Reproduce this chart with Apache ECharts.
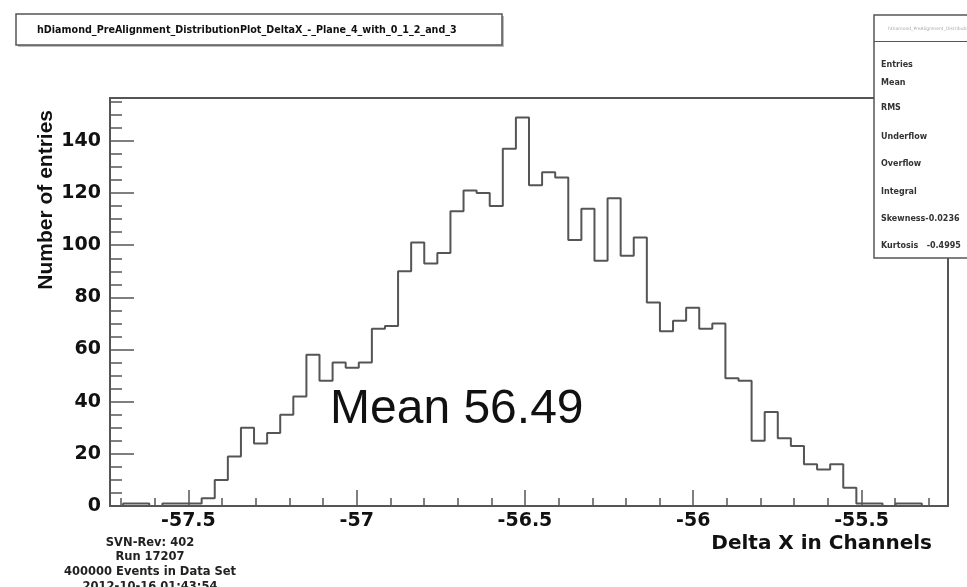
<!DOCTYPE html>
<html>
<head>
<meta charset="utf-8">
<script src="https://cdn.jsdelivr.net/npm/echarts@6/dist/echarts.min.js"></script>
<style>
html,body{margin:0;padding:0;background:#fff;}
#chart{width:967px;height:587px;}
</style>
</head>
<body>
<div id="chart"></div>
<script>
// ---- data ----
const histTitle = 'hDiamond_PreAlignment_DistributionPlot_DeltaX_-_Plane_4_with_0_1_2_and_3';
const xMin = -57.733;
const xMax = -55.243;
const nBins = 64;
const counts = [
  0, 1, 1, 0, 1, 1, 1, 3, 10, 19,
  30, 24, 28, 35, 42, 58, 48, 55, 53, 55,
  68, 69, 90, 101, 93, 97, 113, 121, 120, 115,
  137, 149, 123, 128, 126, 102, 114, 94, 118, 96,
  103, 78, 67, 71, 76, 68, 70, 49, 48, 25,
  36, 26, 23, 16, 14, 16, 7, 1, 1, 0,
  1, 1, 0, 0
];
const yMax = 156.45;
const xMajorTicks = [-57.5, -57, -56.5, -56, -55.5];
const xMinorTicks = [-57.7, -57.6, -57.5, -57.4, -57.3, -57.2, -57.1, -57.0, -56.9, -56.8, -56.7, -56.6, -56.5,
  -56.4, -56.3, -56.2, -56.1, -56.0, -55.9, -55.8, -55.7, -55.6, -55.5, -55.4, -55.3];
const yMajorTicks = [0, 20, 40, 60, 80, 100, 120, 140];
const yMinorTicks = [0, 5, 10, 15, 20, 25, 30, 35, 40, 45, 50, 55, 60, 65, 70, 75, 80, 85, 90, 95, 100,
  105, 110, 115, 120, 125, 130, 135, 140, 145, 150, 155];
const xTitle = 'Delta X in Channels';
const yTitle = 'Number of entries';
const annotation = 'Mean 56.49';
const statsHeader = 'hDiamond_PreAlignment_DistributionPlot_DeltaX_-_Plane_4';
const statsRows = ['Entries', 'Mean', 'RMS', 'Underflow', 'Overflow', 'Integral', 'Skewness-0.0236', 'Kurtosis   -0.4995'];
const infoLines = ['SVN-Rev: 402', 'Run 17207', '400000 Events in Data Set', '2012-10-16 01:43:54'];

// ---- build ----
const binW = (xMax - xMin) / nBins;
const stepData = counts.map((c, i) => [xMin + i * binW, c]);
stepData.push([xMax, counts[counts.length - 1]]);

const AX = '#555';
const FONT = 'DejaVu Sans';
const gridRect = {left: 110, right: 19, top: 98, bottom: 81};

const chart = echarts.init(document.getElementById('chart'), null, {renderer: 'canvas'});
const statsY = [65, 83, 108, 136.5, 164, 191.5, 218.5, 246];

const graphics = [
  // title box shadow + box
  {type: 'rect', z: 100, shape: {x: 18, y: 16, width: 486, height: 31}, style: {fill: '#bbb'}},
  {type: 'rect', z: 101, shape: {x: 16, y: 14, width: 486, height: 31}, style: {fill: '#fff', stroke: AX, lineWidth: 1.5}},
  {type: 'text', z: 102, x: 37, y: 30, style: {text: histTitle, font: 'bold 9.6px "DejaVu Sans"', fill: '#111', verticalAlign: 'middle', align: 'left'}},
  // stats box
  {type: 'rect', z: 100, shape: {x: 874, y: 15, width: 110, height: 243}, style: {fill: '#fff', stroke: AX, lineWidth: 1.5}},
  {type: 'line', z: 101, shape: {x1: 874, y1: 41.5, x2: 967, y2: 41.5}, style: {stroke: AX, lineWidth: 1.2}},
  {type: 'text', z: 102, x: 888, y: 28.5, style: {text: statsHeader, font: '4.5px "DejaVu Sans"', fill: '#aaa', verticalAlign: 'middle'}},
  // axis titles
  {type: 'text', z: 102, x: 932, y: 544, style: {text: xTitle, font: 'bold 20px "DejaVu Sans"', fill: '#111', align: 'right', verticalAlign: 'middle'}},
  {type: 'text', z: 102, x: 46, y: 110, rotation: Math.PI / 2, style: {text: yTitle, font: 'bold 21px "Liberation Sans"', fill: '#111', align: 'right', verticalAlign: 'middle'}},
  // annotation
  {type: 'text', z: 102, x: 330, y: 410, style: {text: annotation, font: '48px "Liberation Sans"', fill: '#111', align: 'left', verticalAlign: 'middle'}}
];
statsRows.forEach((t, i) => {
  graphics.push({type: 'text', z: 102, x: 881, y: statsY[i], style: {text: t, font: 'bold 8px "DejaVu Sans"', fill: '#333', verticalAlign: 'middle'}});
});
infoLines.forEach((t, i) => {
  graphics.push({type: 'text', z: 102, x: 150, y: [543, 557, 572, 587][i], style: {text: t, font: 'bold 11.5px "DejaVu Sans"', fill: '#222', align: 'center', verticalAlign: 'middle'}});
});

const option = {
  animation: false,
  backgroundColor: '#fff',
  grid: [
    Object.assign({show: true, borderColor: AX, borderWidth: 2, backgroundColor: 'transparent'}, gridRect),
    Object.assign({show: false}, gridRect)
  ],
  xAxis: [
    {
      type: 'value', gridIndex: 0, min: xMin, max: xMax,
      axisLine: {show: true, onZero: false, lineStyle: {color: AX, width: 2}},
      axisTick: {show: true, inside: true, length: 16, customValues: xMajorTicks, lineStyle: {color: AX, width: 1.5}},
      axisLabel: {show: true, customValues: xMajorTicks, margin: 6, color: '#111', fontFamily: FONT, fontWeight: 'bold', fontSize: 19},
      splitLine: {show: false}
    },
    {
      type: 'value', gridIndex: 1, min: xMin, max: xMax,
      axisLine: {show: false},
      axisTick: {show: true, inside: true, length: 8, customValues: xMinorTicks, lineStyle: {color: AX, width: 1.5}},
      axisLabel: {show: false},
      splitLine: {show: false}
    }
  ],
  yAxis: [
    {
      type: 'value', gridIndex: 0, min: 0, max: yMax,
      axisLine: {show: true, onZero: false, lineStyle: {color: AX, width: 2}},
      axisTick: {show: true, inside: true, length: 24, customValues: yMajorTicks, lineStyle: {color: AX, width: 1.5}},
      axisLabel: {show: true, customValues: yMajorTicks, margin: 9, color: '#111', fontFamily: FONT, fontWeight: 'bold', fontSize: 19},
      splitLine: {show: false}
    },
    {
      type: 'value', gridIndex: 1, min: 0, max: yMax,
      axisLine: {show: false},
      axisTick: {show: true, inside: true, length: 12, customValues: yMinorTicks, lineStyle: {color: AX, width: 1.5}},
      axisLabel: {show: false},
      splitLine: {show: false}
    }
  ],
  series: [{
    type: 'line',
    xAxisIndex: 0, yAxisIndex: 0,
    step: 'end',
    data: stepData,
    symbol: 'none',
    lineStyle: {color: '#555', width: 2},
    z: 5
  }],
  graphic: graphics
};
chart.setOption(option);
</script>
</body>
</html>
